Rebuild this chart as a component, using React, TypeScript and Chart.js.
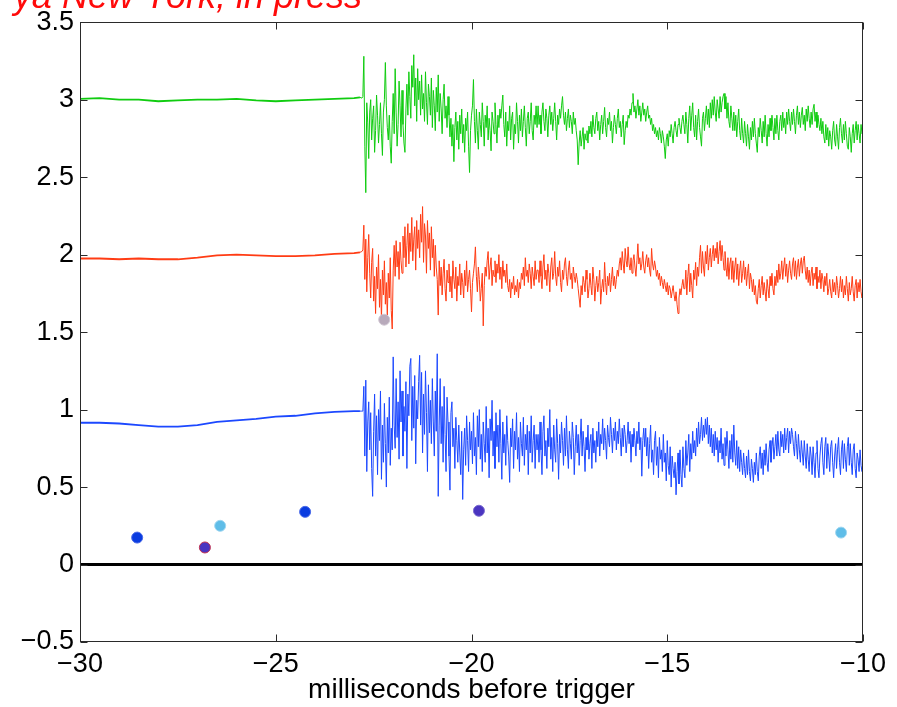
import React, { useEffect, useRef } from "react";
import { Chart, registerables } from "chart.js";

Chart.register(...registerables);

// ---------- data ----------
const HEADER_TEXT = "ya New York, in press";
const X_TITLE = "milliseconds before trigger";
const X_TICKS = [-30, -25, -20, -15, -10];
const Y_TICKS = [-0.5, 0, 0.5, 1, 1.5, 2, 2.5, 3, 3.5];

// quiet baseline before the event
const FLAT_TIMES = [-30, -29.5, -29, -28.5, -28, -27.5, -27, -26.5, -26, -25.5, -25, -24.5, -24, -23.5, -23, -22.85];
const GREEN_FLAT = [3.005, 3.01, 3.0, 3.0, 2.99, 2.995, 3.0, 3.0, 3.005, 2.995, 2.99, 2.995, 3.0, 3.005, 3.01, 3.015];
const RED_FLAT = [1.975, 1.975, 1.97, 1.975, 1.97, 1.97, 1.98, 1.995, 2.0, 1.995, 1.99, 1.99, 1.995, 2.005, 2.01, 2.015];
const BLUE_FLAT = [0.915, 0.915, 0.91, 0.9, 0.89, 0.89, 0.9, 0.92, 0.93, 0.94, 0.955, 0.96, 0.975, 0.985, 0.99, 0.99];

// sampled activity: burst (-22.8 .. -18.325) followed by tail (-18.3 .. -10), NOISY_STEP ms apart
const NOISY_START = -22.8;
const NOISY_STEP = 0.025;

const GREEN_BURST = [
  3.01, 3.02, 3.28, 2.70, 2.40, 2.98, 2.85, 2.62, 2.92, 3.00,
  2.74, 2.88, 2.96, 2.66, 2.80, 3.03, 2.90, 2.72, 2.84, 2.98,
  2.78, 2.64, 2.92, 3.00, 3.24, 2.96, 2.82, 2.74, 2.90, 2.70,
  2.59, 2.86, 3.04, 2.78, 3.20, 2.92, 2.70, 2.84, 3.12, 2.96,
  2.76, 3.06, 2.84, 2.72, 2.66, 2.94, 3.10, 2.90, 3.18, 3.02,
  2.88, 3.22, 3.08, 3.29, 2.96, 3.14, 2.86, 3.20, 3.00, 3.12,
  2.90, 3.16, 2.94, 3.04, 2.86, 3.18, 2.98, 2.84, 3.10, 3.02,
  2.90, 3.14, 2.82, 3.06, 2.96, 2.80, 3.08, 2.92, 3.16, 2.86,
  3.04, 2.94, 2.78, 3.00, 3.10, 2.88, 2.96, 2.82, 3.02, 2.90,
  2.76, 2.88, 2.70, 2.84, 2.60, 2.82, 2.92, 2.74, 2.86, 2.68,
  2.90, 2.78, 2.94, 2.72, 2.84, 2.66, 2.88, 2.80, 2.92, 2.70,
  2.53, 2.80, 2.90, 2.96, 3.13, 2.86, 2.72, 2.94, 2.80, 2.68,
  2.92, 2.84, 2.76, 2.98, 2.86, 2.70, 2.90, 2.82, 2.96, 2.74,
  2.88, 2.80, 2.67, 2.92, 2.86, 2.78, 2.98, 2.84, 2.72, 2.90,
  2.82, 2.94, 2.88, 2.96, 3.03, 2.84, 2.76, 2.92, 2.70, 2.86,
  2.80, 2.96, 2.74, 2.88, 2.92, 2.68, 2.84, 2.78, 2.98, 2.86,
  2.72, 2.90, 2.80, 2.94, 2.76, 2.86, 2.96, 2.82, 2.70, 2.88,
  2.92, 2.78, 2.86, 2.98, 2.80, 2.74, 2.90, 2.84, 2.96, 2.82,
];

const GREEN_TAIL = [
  2.96, 2.84, 2.90, 2.78, 2.92, 2.98, 2.86, 2.80, 2.94, 2.88,
  2.76, 2.90, 2.96, 2.84, 2.92, 2.80, 2.88, 2.98, 2.86, 2.74,
  2.90, 2.84, 2.94, 2.88, 2.96, 3.02, 2.90, 2.84, 2.92, 2.80,
  2.88, 2.94, 2.82, 2.90, 2.86, 2.78, 2.92, 2.84, 2.88, 2.80,
  2.74, 2.58, 2.72, 2.80, 2.70, 2.76, 2.82, 2.68, 2.78, 2.74,
  2.80, 2.72, 2.83, 2.78, 2.86, 2.76, 2.90, 2.82, 2.78, 2.88,
  2.92, 2.80, 2.86, 2.74, 2.84, 2.90, 2.78, 2.86, 2.95, 2.82,
  2.76, 2.88, 2.84, 2.92, 2.80, 2.86, 2.72, 2.82, 2.90, 2.84,
  2.78, 2.88, 2.94, 2.82, 2.86, 2.76, 2.84, 2.90, 2.71, 2.80,
  2.86, 2.82, 2.90, 2.88, 2.94, 2.90, 2.98, 3.04, 2.92, 2.96,
  2.88, 2.94, 3.00, 2.90, 2.96, 2.86, 2.92, 2.98, 2.90, 2.94,
  2.86, 2.92, 2.96, 2.88, 2.90, 2.84, 2.88, 2.80, 2.84, 2.78,
  2.82, 2.76, 2.80, 2.74, 2.82, 2.78, 2.72, 2.80, 2.76, 2.70,
  2.62, 2.74, 2.78, 2.70, 2.80, 2.76, 2.84, 2.78, 2.72, 2.82,
  2.86, 2.80, 2.76, 2.84, 2.88, 2.82, 2.78, 2.86, 2.90, 2.84,
  2.78, 2.92, 2.84, 2.72, 2.88, 2.96, 2.80, 2.90, 2.98, 2.82,
  2.76, 2.90, 2.74, 2.86, 2.94, 2.82, 2.76, 2.70, 2.88, 2.92,
  2.80, 2.88, 2.96, 2.84, 2.94, 2.82, 2.98, 2.88, 3.00, 2.90,
  3.02, 2.92, 2.86, 3.00, 2.94, 2.88, 3.02, 2.92, 2.98, 3.02,
  3.04, 2.94, 3.02, 2.88, 2.98, 2.86, 2.82, 2.96, 2.88, 2.80,
  2.92, 2.80, 2.90, 2.76, 2.86, 2.94, 2.80, 2.74, 2.88, 2.78,
  2.72, 2.86, 2.78, 2.70, 2.84, 2.76, 2.68, 2.82, 2.74, 2.86,
  2.76, 2.88, 2.78, 2.72, 2.66, 2.82, 2.76, 2.88, 2.80, 2.72,
  2.86, 2.76, 2.90, 2.78, 2.70, 2.84, 2.76, 2.88, 2.80, 2.90,
  2.82, 2.74, 2.88, 2.78, 2.90, 2.80, 2.74, 2.86, 2.90, 2.80,
  2.92, 2.82, 2.88, 2.78, 2.92, 2.84, 2.94, 2.86, 2.80, 2.92,
  2.84, 2.94, 2.86, 2.78, 2.90, 2.96, 2.84, 2.92, 2.82, 2.90,
  2.95, 2.84, 2.90, 2.80, 2.94, 2.86, 2.96, 2.88, 2.82, 2.92,
  2.84, 2.94, 2.97, 2.86, 2.92, 2.82, 2.90, 2.84, 2.80, 2.88,
  2.78, 2.86, 2.76, 2.72, 2.84, 2.74, 2.82, 2.70, 2.80, 2.76,
  2.68, 2.80, 2.86, 2.74, 2.70, 2.84, 2.76, 2.68, 2.82, 2.88,
  2.78, 2.72, 2.84, 2.74, 2.86, 2.78, 2.70, 2.68, 2.82, 2.76,
  2.66, 2.78, 2.84, 2.72, 2.80, 2.86, 2.74, 2.84, 2.78, 2.72,
  2.84, 2.78, 2.80,
];

const RED_BURST = [
  2.02, 2.03, 2.19, 1.84, 2.10, 1.76, 1.98, 2.13, 1.88, 1.72,
  1.95, 2.04, 1.70, 1.86, 1.62, 1.92, 1.78, 2.00, 1.66, 1.84,
  1.58, 1.90, 1.74, 1.96, 1.68, 1.82, 1.60, 1.88, 1.72, 1.98,
  1.64, 1.52, 1.90, 2.06, 1.86, 2.09, 1.92, 2.02, 1.84, 2.08,
  1.96, 1.88, 2.12, 1.98, 2.18, 1.92, 2.06, 2.20, 1.94, 2.14,
  2.02, 2.24, 1.96, 2.10, 2.18, 1.90, 2.22, 2.04, 2.16, 1.98,
  2.26, 2.08, 2.31, 1.95, 2.20, 2.12, 1.88, 2.22, 2.04, 2.14,
  1.90, 2.18, 1.98, 2.10, 1.86, 2.06, 1.92, 1.84, 1.61, 1.96,
  1.80, 1.92, 1.74, 1.88, 1.97, 1.78, 1.70, 1.90, 1.82, 1.94,
  1.76, 1.86, 1.72, 1.96, 1.84, 1.78, 1.92, 1.70, 1.86, 1.80,
  1.94, 1.74, 1.88, 1.82, 1.72, 1.90, 1.80, 1.96, 1.76, 1.84,
  1.90, 1.78, 1.63, 1.82, 1.88, 1.94, 2.05, 1.86, 1.76, 1.92,
  1.84, 1.70, 1.78, 1.88, 1.54, 1.80, 1.92, 1.86, 1.96, 2.02,
  1.84, 1.92, 1.98, 1.80, 1.90, 1.86, 1.96, 1.82, 1.94, 1.88,
  2.00, 1.84, 1.92, 1.78, 1.96, 1.86, 1.90, 1.82, 1.94, 1.80,
  1.76, 1.84, 1.72, 1.82, 1.78, 1.86, 1.74, 1.80, 1.76, 1.84,
  1.72, 1.82, 1.78, 1.88, 1.84, 1.92, 1.80, 1.98, 1.86, 1.90,
  1.82, 1.94, 1.88, 1.78, 1.92, 1.86, 1.80, 1.96, 1.84, 1.90,
];

const RED_TAIL = [
  1.90, 1.82, 1.96, 1.86, 1.78, 1.92, 2.00, 1.84, 1.90, 1.80,
  1.94, 1.88, 1.76, 1.92, 1.98, 1.84, 1.88, 2.02, 1.86, 1.80,
  1.92, 1.86, 1.96, 1.82, 1.76, 1.90, 1.84, 1.94, 1.98, 1.86,
  1.80, 1.90, 1.96, 1.84, 1.88, 1.78, 1.92, 1.86, 1.82, 1.88,
  1.84, 1.78, 1.72, 1.66, 1.80, 1.74, 1.86, 1.82, 1.76, 1.90,
  1.84, 1.72, 1.78, 1.88, 1.80, 1.74, 1.92, 1.84, 1.70, 1.80,
  1.86, 1.76, 1.82, 1.90, 1.68, 1.78, 1.84, 1.76, 1.95, 1.82,
  1.74, 1.86, 1.80, 1.88, 1.76, 1.84, 1.92, 1.80, 1.86, 1.78,
  1.84, 1.90, 1.86, 1.94, 1.98, 1.90, 2.02, 1.94, 1.88, 2.04,
  1.96, 1.92, 2.05, 1.94, 1.90, 1.98, 1.88, 1.96, 2.00, 1.92,
  1.86, 1.96, 2.07, 1.94, 1.98, 1.90, 1.94, 2.02, 1.92, 1.88,
  1.96, 2.00, 1.92, 1.98, 1.90, 1.86, 2.04, 1.94, 1.90, 1.96,
  1.92, 1.86, 1.90, 1.84, 1.88, 1.80, 1.86, 1.82, 1.78, 1.84,
  1.80, 1.76, 1.82, 1.74, 1.80, 1.78, 1.72, 1.76, 1.80, 1.74,
  1.70, 1.76, 1.68, 1.62, 1.72, 1.78, 1.74, 1.80, 1.84, 1.78,
  1.78, 1.90, 1.74, 1.86, 1.94, 1.76, 1.88, 1.80, 1.72, 1.90,
  1.84, 1.95, 1.80, 1.92, 1.86, 1.98, 2.06, 1.88, 2.02, 1.92,
  1.86, 2.02, 1.94, 2.06, 1.90, 1.98, 2.04, 1.92, 2.00, 2.06,
  1.96, 2.04, 1.98, 2.08, 1.94, 2.02, 2.09, 1.96, 2.06, 1.98,
  1.90, 2.02, 1.92, 1.86, 1.98, 1.84, 1.94, 1.98, 1.84, 1.96,
  1.82, 1.92, 1.98, 1.84, 1.94, 1.80, 1.90, 1.96, 1.82, 1.88,
  1.96, 1.84, 1.92, 1.80, 1.88, 1.94, 1.78, 1.88, 1.84, 1.76,
  1.84, 1.74, 1.80, 1.70, 1.68, 1.78, 1.84, 1.72, 1.80, 1.86,
  1.74, 1.82, 1.76, 1.70, 1.84, 1.78, 1.72, 1.86, 1.80, 1.88,
  1.78, 1.74, 1.86, 1.80, 1.90, 1.82, 1.94, 1.84, 1.88, 1.96,
  1.84, 1.92, 1.98, 1.86, 1.94, 1.82, 1.90, 1.96, 1.88, 1.84,
  1.94, 1.98, 1.86, 1.96, 1.84, 1.92, 1.97, 1.86, 1.94, 1.98,
  1.88, 1.96, 1.99, 1.90, 1.84, 1.92, 1.82, 1.90, 1.80, 1.88,
  1.92, 1.80, 1.88, 1.84, 1.92, 1.78, 1.86, 1.82, 1.90, 1.78,
  1.88, 1.84, 1.76, 1.86, 1.80, 1.88, 1.74, 1.78, 1.84, 1.76,
  1.72, 1.84, 1.76, 1.82, 1.74, 1.86, 1.80, 1.72, 1.78, 1.86,
  1.76, 1.84, 1.72, 1.80, 1.74, 1.86, 1.78, 1.70, 1.82, 1.74,
  1.78, 1.86, 1.76, 1.70, 1.80, 1.84, 1.72, 1.82, 1.76, 1.84,
  1.76, 1.72, 1.78,
];

const BLUE_BURST = [
  0.99, 0.99, 1.15, 0.70, 1.19, 0.60, 0.92, 1.05, 0.74, 0.98,
  0.62, 0.44, 0.86, 1.10, 0.70, 0.96, 0.58, 1.00, 0.80, 1.12,
  0.55, 0.90, 0.66, 1.04, 0.78, 0.50, 0.95, 0.72, 1.08, 0.64,
  0.88, 0.74, 1.34, 0.90, 0.75, 1.20, 0.82, 1.05, 0.68, 1.25,
  0.92, 1.12, 0.70, 1.02, 0.86, 1.18, 0.62, 1.10, 0.96, 1.28,
  1.33, 0.80, 1.15, 0.88, 1.22, 0.65, 1.06, 0.94, 1.18, 1.35,
  0.90, 1.24, 0.72, 1.10, 0.84, 1.25, 0.98, 0.60, 1.16, 0.85,
  1.06, 0.78, 1.20, 0.92, 0.70, 1.12, 0.86, 1.36, 0.44, 0.90,
  1.20, 0.78, 1.02, 0.66, 1.15, 0.84, 0.60, 1.08, 0.92, 0.70,
  0.48, 0.98, 1.05, 0.76, 0.88, 0.62, 0.95, 0.80, 0.66, 0.90,
  0.72, 0.58, 0.86, 0.42, 0.74, 0.88, 0.64, 0.96, 0.80, 0.60,
  0.92, 0.74, 0.86, 0.65, 0.98, 0.70, 0.82, 0.58, 0.96, 0.76,
  1.00, 0.68, 0.84, 0.60, 0.92, 0.78, 0.66, 1.02, 0.72, 0.88,
  0.56, 0.94, 0.80, 1.06, 0.70, 0.86, 0.62, 0.98, 0.76, 0.90,
  0.66, 1.00, 0.78, 0.55, 0.92, 0.72, 0.84, 0.64, 0.96, 0.80,
  0.70, 0.53, 0.88, 0.76, 0.94, 0.62, 0.86, 0.74, 0.98, 0.68,
  0.82, 0.60, 0.92, 0.78, 0.70, 0.95, 0.64, 0.84, 0.74, 0.90,
  0.58, 0.86, 0.72, 0.96, 0.66, 0.80, 0.90, 0.62, 0.84, 0.74,
];

const BLUE_TAIL = [
  0.84, 0.66, 0.92, 0.74, 0.58, 0.86, 0.96, 0.70, 0.80, 0.62,
  0.88, 0.76, 1.00, 0.68, 0.82, 0.60, 0.90, 0.74, 0.66, 0.94,
  0.78, 0.55, 0.84, 0.72, 0.92, 0.80, 0.64, 0.88, 0.70, 0.96,
  0.74, 0.62, 0.86, 0.78, 0.68, 0.92, 0.82, 0.58, 0.76, 0.90,
  0.72, 0.84, 0.64, 0.80, 0.94, 0.70, 0.86, 0.76, 0.60, 0.82,
  0.74, 0.90, 0.68, 0.78, 0.84, 0.62, 0.88, 0.72, 0.80, 0.66,
  0.86, 0.76, 0.92, 0.70, 0.84, 0.78, 0.94, 0.74, 0.88, 0.80,
  0.68, 0.90, 0.82, 0.76, 0.95, 0.84, 0.72, 0.88, 0.80, 0.92,
  0.74, 0.86, 0.78, 0.94, 0.82, 0.70, 0.88, 0.76, 0.90, 0.84,
  0.72, 0.80, 0.92, 0.78, 0.86, 0.66, 0.84, 0.76, 0.88, 0.80,
  0.70, 0.86, 0.78, 0.92, 0.74, 0.82, 0.57, 0.80, 0.88, 0.76,
  0.88, 0.70, 0.82, 0.62, 0.78, 0.90, 0.66, 0.74, 0.58, 0.80,
  0.86, 0.64, 0.76, 0.56, 0.82, 0.68, 0.74, 0.60, 0.84, 0.66,
  0.72, 0.54, 0.80, 0.64, 0.58, 0.76, 0.50, 0.70, 0.62, 0.56,
  0.66, 0.45, 0.60, 0.72, 0.52, 0.74, 0.58, 0.50, 0.76, 0.62,
  0.56, 0.80, 0.64, 0.72, 0.84, 0.60, 0.78, 0.68, 0.86, 0.72,
  0.80, 0.70, 0.88, 0.76, 0.92, 0.78, 0.84, 0.95, 0.80, 0.90,
  0.82, 0.94, 0.84, 0.95, 0.78, 0.90, 0.76, 0.88, 0.72, 0.84,
  0.70, 0.86, 0.74, 0.82, 0.66, 0.80, 0.72, 0.88, 0.68, 0.78,
  0.64, 0.82, 0.70, 0.86, 0.74, 0.62, 0.80, 0.68, 0.84, 0.66,
  0.90, 0.72, 0.64, 0.80, 0.62, 0.76, 0.60, 0.74, 0.66, 0.58,
  0.72, 0.62, 0.56, 0.70, 0.58, 0.74, 0.60, 0.54, 0.68, 0.62,
  0.53, 0.66, 0.58, 0.72, 0.60, 0.54, 0.70, 0.76, 0.62, 0.72,
  0.58, 0.74, 0.64, 0.78, 0.66, 0.60, 0.74, 0.80, 0.66, 0.76,
  0.82, 0.68, 0.76, 0.84, 0.70, 0.86, 0.74, 0.70, 0.86, 0.76,
  0.84, 0.72, 0.88, 0.74, 0.82, 0.88, 0.72, 0.86, 0.78, 0.88,
  0.84, 0.76, 0.70, 0.86, 0.78, 0.68, 0.84, 0.74, 0.66, 0.80,
  0.72, 0.64, 0.80, 0.70, 0.62, 0.78, 0.68, 0.60, 0.76, 0.70,
  0.58, 0.76, 0.66, 0.56, 0.72, 0.80, 0.62, 0.56, 0.70, 0.78,
  0.82, 0.66, 0.58, 0.76, 0.82, 0.62, 0.78, 0.70, 0.60, 0.76,
  0.80, 0.66, 0.56, 0.70, 0.78, 0.62, 0.74, 0.82, 0.66, 0.58,
  0.74, 0.80, 0.62, 0.78, 0.68, 0.60, 0.76, 0.82, 0.64, 0.78,
  0.66, 0.58, 0.74, 0.78, 0.62, 0.56, 0.72, 0.68, 0.60, 0.74,
  0.64, 0.60, 0.66,
];

// individual markers
const DOT_TIMES = [-28.54, -26.81, -26.42, -24.25, -22.23, -19.81, -10.56];
const DOT_VALUES = [0.174, 0.11, 0.25, 0.34, 1.58, 0.347, 0.206];
const DOT_COLORS = ["#0a3ce0", "#4a35c0", "#5fbde8", "#0a3ce0", "#b8aabb", "#4a35c0", "#5fbde8"];
const DOT_BORDERS = ["#4a6ae8", "#c03050", "#9fd6f0", "#4a6ae8", "#d0c6d2", "#7a6ad0", "#9fd6f0"];

// zero reference line
const ZERO_LINE_TIMES = [-30, -10];
const ZERO_LINE_VALUES = [0, 0];

const GREEN = "#10cc10";
const RED = "#ff3c14";
const BLUE = "#1c48ff";
const FLAT_END = -22.85;

function buildSeries(flat: number[], burst: number[], tail: number[]) {
  const pts = FLAT_TIMES.map((t, i) => ({ x: t, y: flat[i] }));
  [...burst, ...tail].forEach((v, i) => pts.push({ x: NOISY_START + i * NOISY_STEP, y: v }));
  return pts;
}

const fmt = (v: number) => String(v).replace("-", "\u2212");

const FONT = "'Liberation Sans', Arial, Helvetica, sans-serif";

export default function App() {
  const ref = useRef<HTMLCanvasElement | null>(null);

  useEffect(() => {
    if (!ref.current) return;

    const framePlugin = {
      id: "frame",
      afterDraw(chart: any) {
        const { ctx, chartArea: a } = chart;
        const xs = chart.scales.x;
        const ys = chart.scales.y;
        ctx.save();
        ctx.strokeStyle = "#2a2a2a";
        ctx.lineWidth = 1;
        const L = Math.round(a.left) + 0.5;
        const R = Math.round(a.right) - 0.5;
        const T = Math.round(a.top) + 0.5;
        const B = Math.round(a.bottom) - 0.5;
        ctx.strokeRect(L, T, R - L, B - T);
        const tl = 7;
        ctx.beginPath();
        X_TICKS.forEach((v) => {
          const px = Math.round(xs.getPixelForValue(v)) + 0.5;
          ctx.moveTo(px, B);
          ctx.lineTo(px, B - tl);
          ctx.moveTo(px, T);
          ctx.lineTo(px, T + tl);
        });
        Y_TICKS.forEach((v) => {
          const py = Math.round(ys.getPixelForValue(v)) + 0.5;
          ctx.moveTo(L, py);
          ctx.lineTo(L + tl, py);
          ctx.moveTo(R, py);
          ctx.lineTo(R - tl, py);
        });
        ctx.stroke();
        // header text (cut off at the top of the page)
        ctx.fillStyle = "#ff0a0a";
        ctx.font = `italic 36px ${FONT}`;
        ctx.textAlign = "right";
        ctx.textBaseline = "alphabetic";
        ctx.fillText(HEADER_TEXT, 362, 8);
        ctx.restore();
      },
    };

    const lineDs = (data: any[], color: string) => ({
      type: "line" as const,
      data,
      borderColor: color,
      borderWidth: 1,
      pointRadius: 0,
      tension: 0,
      fill: false,
      segment: {
        borderWidth: (c: any) => (c.p1.parsed.x <= FLAT_END ? 1.8 : 1),
      },
    });

    const chart = new Chart(ref.current, {
      type: "line",
      data: {
        datasets: [
          {
            type: "scatter" as any,
            data: DOT_TIMES.map((t, i) => ({ x: t, y: DOT_VALUES[i] })),
            backgroundColor: DOT_COLORS,
            borderColor: DOT_BORDERS,
            borderWidth: 1,
            pointRadius: 5.5,
            showLine: false,
            order: 0,
          } as any,
          { ...lineDs(buildSeries(GREEN_FLAT, GREEN_BURST, GREEN_TAIL), GREEN), order: 1 },
          { ...lineDs(buildSeries(RED_FLAT, RED_BURST, RED_TAIL), RED), order: 2 },
          { ...lineDs(buildSeries(BLUE_FLAT, BLUE_BURST, BLUE_TAIL), BLUE), order: 3 },
          {
            type: "line" as const,
            data: ZERO_LINE_TIMES.map((t, i) => ({ x: t, y: ZERO_LINE_VALUES[i] })),
            borderColor: "#000000",
            borderWidth: 3,
            pointRadius: 0,
            tension: 0,
            fill: false,
            order: 4,
          },
        ],
      },
      options: {
        animation: false,
        responsive: false,
        devicePixelRatio: 1,
        layout: { padding: { left: 0, top: 20, right: 34, bottom: 0 } },
        plugins: { legend: { display: false }, tooltip: { enabled: false } },
        scales: {
          x: {
            type: "linear",
            min: -30,
            max: -10,
            afterFit: (s: any) => {
              s.height = 65;
            },
            afterBuildTicks: (s: any) => {
              s.ticks = X_TICKS.map((v) => ({ value: v }));
            },
            grid: { display: false, drawTicks: false },
            border: { display: false },
            ticks: {
              autoSkip: false,
              maxRotation: 0,
              padding: 6,
              color: "#000",
              font: { family: FONT, size: 27 },
              callback: (v: any) => fmt(Number(v)),
            },
            title: {
              display: true,
              text: X_TITLE,
              color: "#000",
              font: { family: FONT, size: 28 },
              padding: { top: 0, bottom: 0 },
            },
          },
          y: {
            type: "linear",
            min: -0.5,
            max: 3.5,
            afterFit: (s: any) => {
              s.width = 80;
            },
            afterBuildTicks: (s: any) => {
              s.ticks = Y_TICKS.map((v) => ({ value: v }));
            },
            grid: { display: false, drawTicks: false },
            border: { display: false },
            ticks: {
              autoSkip: false,
              padding: 6,
              color: "#000",
              font: { family: FONT, size: 27 },
              callback: (v: any) => fmt(Number(v)),
            },
          },
        },
      },
      plugins: [framePlugin],
    });
    return () => chart.destroy();
  }, []);

  return (
    <div style={{ position: "fixed", left: 0, top: 0, width: 897, height: 707, background: "#fff" }}>
      <canvas ref={ref} width={897} height={707} style={{ display: "block", width: 897, height: 707 }} />
    </div>
  );
}
